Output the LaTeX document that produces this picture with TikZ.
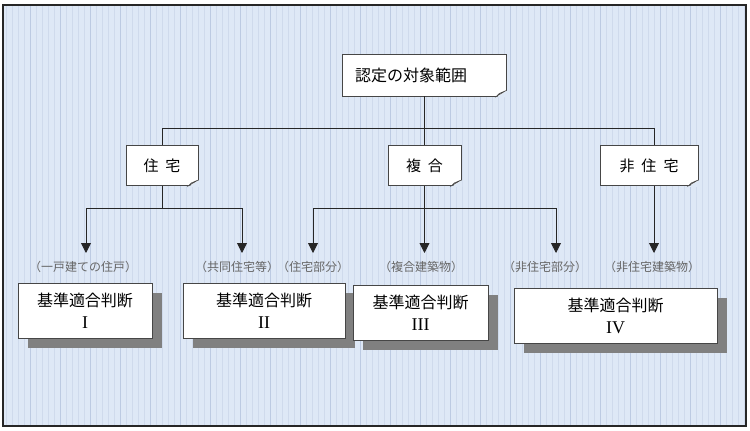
\documentclass[tikz,border=0pt]{standalone}
\usepackage{fontspec}
\setmainfont{Noto Sans CJK JP}
\newfontfamily\romanfont{Liberation Serif}
\usetikzlibrary{arrows.meta,shadows}

\definecolor{gridbg}{RGB}{222,232,246}
\definecolor{gridminor}{RGB}{207,218,236}
\definecolor{gridmajor}{RGB}{188,202,226}
\definecolor{edgegray}{RGB}{70,70,70}

\tikzset{
  notebox/.style={fill=white, draw=edgegray, line width=0.8pt, inner sep=0pt,
    minimum height=40pt, font=\fontsize{15}{18}\selectfont},
  cornercut/.style={fill=gridbg},
  foldcorner/.style={fill=gray!40, draw=edgegray, line width=0.5pt},
  judge/.style={fill=white, draw=edgegray, line width=0.8pt, inner sep=0pt,
    minimum height=55pt, align=center, font=\fontsize{16}{22}\selectfont,
    drop shadow={shadow xshift=10pt, shadow yshift=-10pt, fill=black!50, opacity=1}},
  kind/.style={text=black!60, font=\fontsize{12}{14}\selectfont},
  link/.style={line width=0.9pt, draw=black!85},
  arr/.style={link, -{Triangle[width=10pt,length=10pt]}}
}

\begin{document}
\begin{tikzpicture}[x=1pt,y=-1pt]
  \useasboundingbox (0,0) rectangle (750,431);

  % sheet with grid
  \fill[gridbg] (3,5) rectangle (746,426);
  \draw[gridminor, line width=0.3pt, step=6] (3,5) grid (746,426);
  \draw[gridmajor, line width=0.4pt, step=30] (3,5) grid (746,426);
  \draw[black!85, line width=1.2pt] (3,5) rectangle (746,426);

  % top and category boxes
  \node[notebox, minimum height=42pt, text width=138pt, inner xsep=13pt, align=left,
        font=\fontsize{16}{18}\selectfont] (target) at (424,75) {認定の対象範囲};
  \node[notebox, minimum width=72pt] (jyutaku) at (162,165.5) {住\hspace{7pt}宅};
  \node[notebox, minimum width=73pt] (fukugo) at (424.5,165.5) {複\hspace{7pt}合};
  \node[notebox, minimum width=98pt] (hijyutaku) at (649,165.5) {非\hspace{7pt}住\hspace{7pt}宅};

  % folded corners
  \foreach \n in {target,jyutaku,fukugo,hijyutaku}{
    \fill[cornercut] ([xshift=1pt,yshift=-1pt]\n.south east) -- ([xshift=1pt,yshift=6pt]\n.south east)
      -- ([xshift=-10pt,yshift=-1pt]\n.south east) -- cycle;
    \filldraw[foldcorner] ([xshift=-10pt]\n.south east) -- ([yshift=6pt]\n.south east)
      -- ([xshift=-7pt,yshift=3pt]\n.south east) -- cycle;
  }

  % bus lines and arrow ends
  \coordinate (upper) at (0,128);
  \coordinate (lower) at (0,208);
  \coordinate (t1) at (86,253);
  \coordinate (t2) at (242,253);
  \coordinate (t3) at (313,253);
  \coordinate (t4) at (424.5,253);
  \coordinate (t5) at (556,253);
  \coordinate (t6) at (654,253);

  \draw[link] (target.south) -- (target.south |- upper);
  \draw[link] (jyutaku.north) |- ([xshift=5pt]hijyutaku.north |- upper) -- ([xshift=5pt]hijyutaku.north);
  \draw[link] (fukugo.north) -- (fukugo.north |- upper);

  \draw[link] (jyutaku.south) -- (jyutaku.south |- lower);
  \draw[arr] (jyutaku.south |- lower) -| (t1);
  \draw[arr] (jyutaku.south |- lower) -| (t2);
  \draw[arr] (fukugo.south) -- (t4);
  \draw[arr] (fukugo.south |- lower) -| (t3);
  \draw[arr] (fukugo.south |- lower) -| (t5);
  \draw[arr] ([xshift=5pt]hijyutaku.south) -- (t6);

  % building kinds
  \foreach \name/\x/\txt in {k1/83/{（一戸建ての住戸）}, k2/237/{（共同住宅等）}, k3/313/{（住宅部分）},
                             k4/421/{（複合建築物）}, k5/545/{（非住宅部分）}, k6/652/{（非住宅建築物）}}{
    \node[kind] (\name) at (\x,267) {\txt};
  }

  % judgement boxes
  \node[judge, minimum width=134pt] (j1) at (85,310.5) {基準適合判断\\{\romanfont\fontsize{18}{22}\selectfont I}};
  \node[judge, minimum width=162pt] (j2) at (264,310.5) {基準適合判断\\{\romanfont\fontsize{18}{22}\selectfont II}};
  \node[judge, minimum width=135pt] (j3) at (420.5,312.5) {基準適合判断\\{\romanfont\fontsize{18}{22}\selectfont III}};
  \node[judge, minimum width=203pt] (j4) at (615.5,315.5) {基準適合判断\\{\romanfont\fontsize{18}{22}\selectfont IV}};

\end{tikzpicture}
\end{document}
